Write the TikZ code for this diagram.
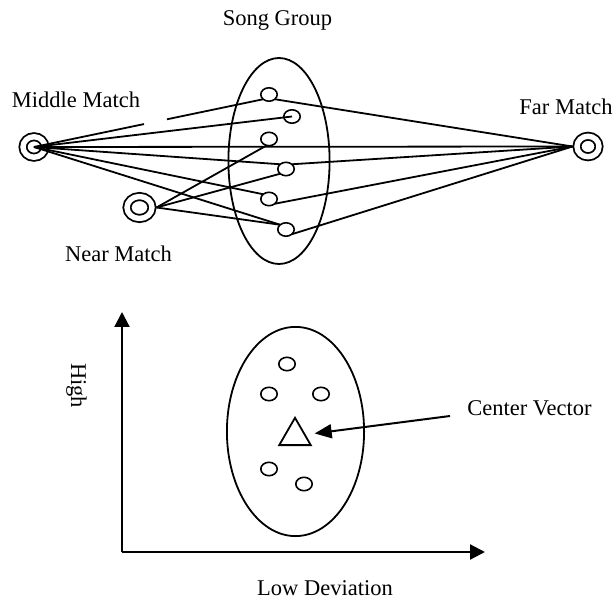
\documentclass[tikz,border=0pt]{standalone}
\usepackage{fontspec}
\setmainfont{Liberation Serif}
\usepackage{tikz}
\usetikzlibrary{arrows.meta, calc, shapes.geometric}

\tikzset{
  song/.style={ellipse, draw, line width=1.6pt, minimum width=16.4pt, minimum height=13.4pt, inner sep=0pt, outer sep=0pt},
  matchpt/.style={ellipse, draw, line width=1.8pt, double, double distance=5.4pt, minimum width=22pt, minimum height=20.5pt, inner sep=0pt, outer sep=4.5pt},
  group/.style={ellipse, draw, line width=1.8pt, inner sep=0pt, outer sep=0pt},
  link/.style={line width=1.8pt},
  axis/.style={line width=2.2pt, -{Triangle[length=15pt,width=15pt]}},
  pointer/.style={line width=2pt, -{Triangle[length=17pt,width=14pt]}},
  txt/.style={inner sep=0pt, font=\fontsize{22.5}{27}\selectfont}
}

\begin{document}
\begin{tikzpicture}[x=1pt, y=-1pt]
    \useasboundingbox (0,0) rectangle (613,601);

    % song group with its matches
    \node[group, minimum width=101.2pt, minimum height=206pt] (grp) at (279,161) {};
    \node[txt, anchor=base] (grptxt) at (277.5,26) {Song Group};

    \node[song] (s1) at (269,94.5) {};
    \node[song] (s2) at (292,116.5) {};
    \node[song] (s3) at (269,139) {};
    \node[song] (s4) at (286,169) {};
    \node[song] (s5) at (269,199) {};
    \node[song] (s6) at (286,229.5) {};

    \node[matchpt] (mm) at (34,147) {};
    \node[matchpt, minimum width=25pt, minimum height=22pt] (nm) at (139.5,207.5) {};
    \node[matchpt] (fm) at (588,146.5) {};

    \node[txt, anchor=base] (mmtxt) at (76,108) {Middle Match};
    \node[txt, anchor=base] (nmtxt) at (118.5,262) {Near Match};
    \node[txt, anchor=base] (fmtxt) at (566,115) {Far Match};

    % middle match
    \draw[link] (mm.center) -- ($(mm.center)!0.48!(s1.south west)$);
    \draw[link] ($(mm.center)!0.58!(s1.south west)$) -- (s1.south west);
    \draw[link] (mm.center) -- (s2.center);
    \draw[link] (mm.center) -- (fm.west);
    \draw[link] (mm.center) -- (s4.north west);
    \draw[link] (mm.center) -- (s5.north west);
    \draw[link] (mm.center) -- (s6.north west);

    % near match
    \draw[link] (nm.east) -- (s3.250);
    \draw[link] (nm.east) -- (s4.south west);
    \draw[link] (nm.east) -- (s6.north west);

    % far match
    \draw[link] (s1.south east) -- (fm.west);
    \draw[link] (s4.north east) -- (fm.west);
    \draw[link] (s5.south east) -- (fm.west);
    \draw[link] (s6.south east) -- (fm.west);

    % deviation plot
    \coordinate (orig) at (122,552);
    \coordinate (ytop) at (122,312);
    \coordinate (xend) at (485,552);
    \draw[axis] (orig) -- (ytop);
    \draw[axis] (orig) -- (xend);
    \node[txt, rotate=-90] (hightxt) at (76.5,385.5) {High};
    \node[txt, anchor=base] (lowtxt) at (325,595) {Low Deviation};

    \node[group, minimum width=137.2pt, minimum height=209.2pt] (dev) at (295.5,431.5) {};
    \node[song] (c1) at (287,364) {};
    \node[song] (c2) at (269,394) {};
    \node[song] (c3) at (321,394) {};
    \node[song] (c4) at (269,469) {};
    \node[song] (c5) at (304,484) {};
    \node[regular polygon, regular polygon sides=3, draw, line width=1.8pt, minimum size=36.4pt, inner sep=0pt] (tri) at (295,436) {};

    \node[txt, anchor=base] (cvtxt) at (529.5,415) {Center Vector};
    \coordinate (cvtail) at (450,416);
    \draw[pointer, shorten >=9pt] (cvtail) -- (tri);
\end{tikzpicture}
\end{document}
